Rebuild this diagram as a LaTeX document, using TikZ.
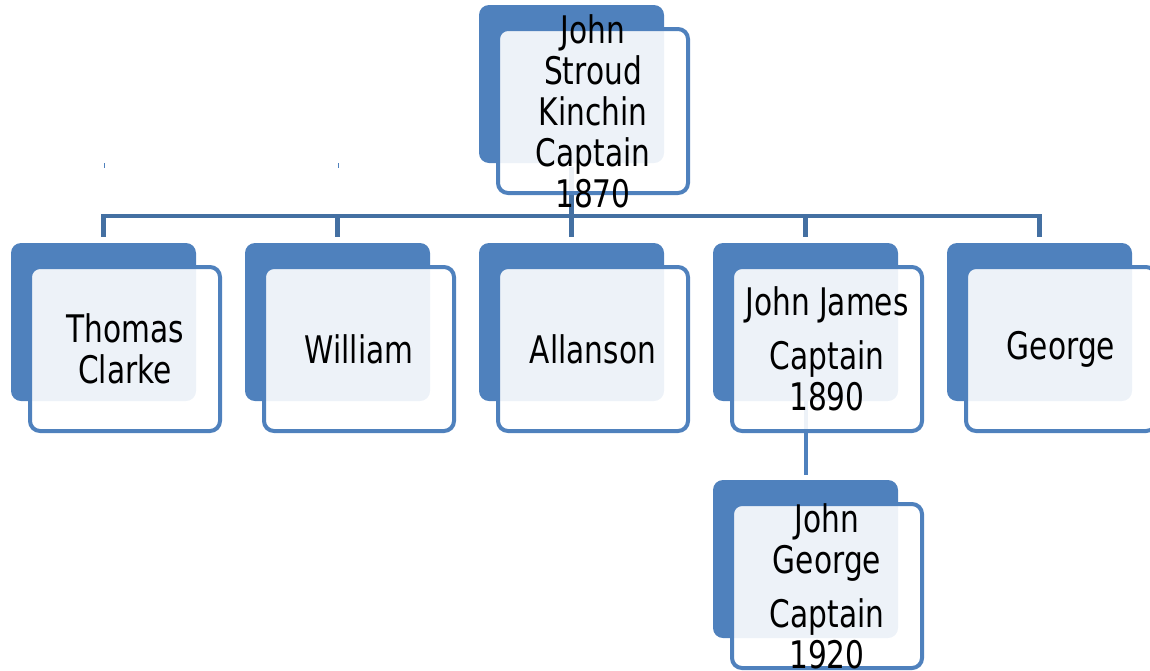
\documentclass[tikz,border=0pt]{standalone}
\usepackage{fontspec}
\setmainfont{DejaVu Sans}[FakeStretch=0.78]
\usetikzlibrary{positioning, backgrounds, calc}
\definecolor{cardblue}{HTML}{4F81BD}
\definecolor{linkblue}{HTML}{4470A2}

\begin{document}
\begin{tikzpicture}[x=1pt, y=-1pt,
  card/.style={draw=cardblue, line width=4pt, rounded corners=10pt, fill=white, fill opacity=.9,
    minimum width=190pt, minimum height=164pt, inner sep=0pt},
  cardtext/.style={align=center, inner sep=0pt, font=\fontsize{38}{41}\selectfont},
  backcard/.style={fill=cardblue, rounded corners=10pt, minimum width=185pt, minimum height=158pt, inner sep=0pt},
  link/.style={draw=linkblue, line width=4.5pt}]
\clip (0,0) rectangle (1150,670);

\node[card] (top) at (593,111) {};
\node[card] (thomas) at (125,349) {};
\node[card] (william) at (359,349) {};
\node[card] (allanson) at (593,349) {};
\node[card] (jamesj) at (827,349) {};
\node[card] (george) at (1061,349) {};
\node[card] (johng) at (827,586) {};

\node[cardtext] (top-t) at (top) {John\\Stroud\\Kinchin\\Captain\\1870};
\node[cardtext] (thomas-t) at (thomas) {Thomas\\Clarke};
\node[cardtext] (william-t) at (william) {William};
\node[cardtext] (allanson-t) at (allanson) {Allanson};
\node[cardtext] (jamesj-t) at (jamesj) {John James\\[13pt]Captain\\1890};
\node[cardtext] (george-t) at (george) {George};
\node[cardtext] (johng-t) at (johng) {John\\George\\[13pt]Captain\\1920};

\begin{scope}[on background layer]
\foreach \n in {top,thomas,william,allanson,jamesj,george,johng}
  \node[backcard] (\n-b) at ($(\n.center)+(-21.5,-27)$) {};

\coordinate (bar) at ($(top-b.south)+(0,53)$);
\draw[link, shorten <=4pt] (top-b.south) -- (bar);
\foreach \n in {thomas,william,allanson,jamesj,george}
  \draw[link, shorten >=6pt] (bar) -| (\n-b.north);
\draw[link, draw=cardblue, line width=4pt, shorten >=5pt] (jamesj-b.south) -- (johng-b.north);

\draw[cardblue, line width=1pt] (104,163) -- (104,168);
\draw[cardblue, line width=1pt] (338,163) -- (338,168);
\end{scope}
\end{tikzpicture}
\end{document}
